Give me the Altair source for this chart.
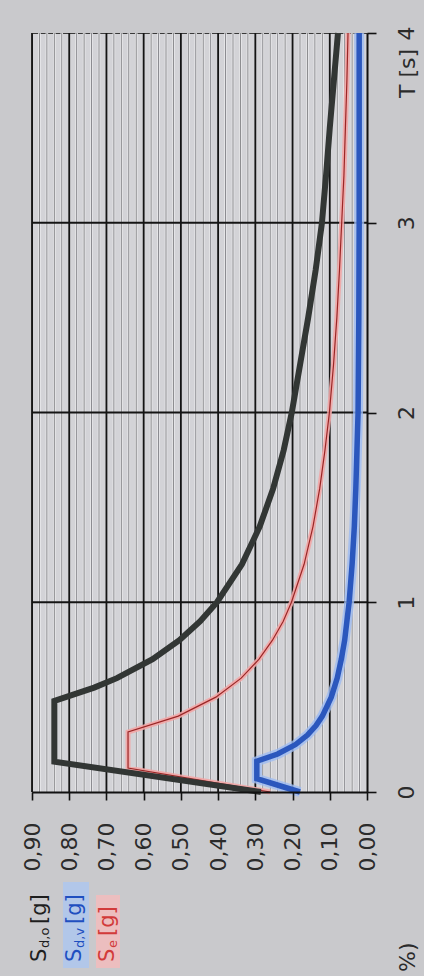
import altair as alt
import pandas as pd

# ---- spectra: period T [s] and spectral acceleration [g] ----
t_sdo = [0.00, 0.16, 0.48, 0.55, 0.60, 0.70, 0.80, 0.90, 1.00, 1.20, 1.40, 1.60,
         1.80, 2.00, 2.25, 2.50, 2.75, 3.00, 3.25, 3.50, 3.75, 4.00]
s_sdo = [0.285, 0.84, 0.84, 0.733, 0.672, 0.576, 0.504, 0.448, 0.403, 0.336, 0.288, 0.252,
         0.224, 0.202, 0.180, 0.158, 0.138, 0.121, 0.110, 0.100, 0.089, 0.078]

t_sdv = [0.00, 0.07, 0.162, 0.20, 0.25, 0.30, 0.35, 0.40, 0.50, 0.60, 0.70, 0.80,
         1.00, 1.20, 1.40, 1.60, 1.80, 2.00, 2.50, 3.00, 4.00]
s_sdv = [0.18, 0.296, 0.296, 0.240, 0.192, 0.160, 0.137, 0.120, 0.096, 0.080, 0.069, 0.060,
         0.048, 0.040, 0.034, 0.030, 0.027, 0.024, 0.022, 0.021, 0.021]

t_se = [0.00, 0.126, 0.316, 0.40, 0.50, 0.60, 0.70, 0.80, 0.90, 1.00, 1.20, 1.40, 1.60,
        1.80, 2.00, 2.25, 2.50, 2.75, 3.00, 3.25, 3.50, 3.75, 4.00]
s_se = [0.26, 0.642, 0.642, 0.507, 0.406, 0.338, 0.290, 0.254, 0.225, 0.203, 0.169, 0.145, 0.127,
        0.113, 0.101, 0.090, 0.081, 0.074, 0.068, 0.062, 0.058, 0.054, 0.051]

# axis values
s_major = [0.0, 0.1, 0.2, 0.3, 0.4, 0.5, 0.6, 0.7, 0.8, 0.9]
s_minor = [round(m + k * 0.02, 2) for m in s_major[:-1] for k in (1, 2, 3, 4)]
t_major = [0, 1, 2, 3, 4]

W, H = 335, 759
FONT = "DejaVu Sans"
INK = "#2b2b2b"

curves = pd.concat([
    pd.DataFrame({"T": t_sdo, "S": s_sdo, "series": "Sdo"}),
    pd.DataFrame({"T": t_sdv, "S": s_sdv, "series": "Sdv"}),
    pd.DataFrame({"T": t_se, "S": s_se, "series": "Se"}),
])

xs = alt.Scale(domain=[0, 0.9], reverse=True, nice=False, zero=False)
ys = alt.Scale(domain=[0, 4], nice=False, zero=False)

x_axis = alt.Axis(
    values=s_major, labelExpr="replace(format(datum.value, '.2f'), '.', ',')",
    labelAngle=270, labelAlign="right", labelBaseline="middle",
    labelFont=FONT, labelFontSize=22, labelColor=INK, labelPadding=22,
    labelOverlap=False, labelBound=False, labelFlush=False,
    tickSize=8, tickColor="#111", tickWidth=1.6,
    domainColor="#111", domainWidth=2, grid=False, title=None, zindex=2,
)
y_axis = alt.Axis(
    orient="right", values=t_major, format="d",
    labelAngle=270, labelAlign="center", labelBaseline="top",
    labelFont=FONT, labelFontSize=22, labelColor=INK, labelPadding=20,
    labelOverlap=False, labelBound=False, labelFlush=False,
    tickSize=9, tickColor="#111", tickWidth=1.6,
    domainColor="#111", domainWidth=2, grid=False, title=None, zindex=2,
)

X = lambda f: alt.X(f, type="quantitative", scale=xs, axis=x_axis)
Y = lambda f: alt.Y(f, type="quantitative", scale=ys, axis=y_axis)

# grid: fine lines every 0.02 g, heavy lines every 0.1 g and every second
minor_light = alt.Chart(pd.DataFrame({"v": s_minor})).mark_rule(
    color="#ececee", strokeWidth=2.5
).encode(x=X("v"), y=alt.value(0), y2=alt.value(H))
minor = alt.Chart(pd.DataFrame({"v": s_minor})).mark_rule(
    color="#88888c", strokeWidth=1
).encode(x=X("v"), y=alt.value(0), y2=alt.value(H))
major = alt.Chart(pd.DataFrame({"v": s_major[1:]})).mark_rule(
    color="#141414", strokeWidth=1.8
).encode(x=X("v"), y=alt.value(0), y2=alt.value(H))
tgrid = alt.Chart(pd.DataFrame({"t": t_major[1:-1]})).mark_rule(
    color="#141414", strokeWidth=1.8
).encode(y=Y("t"), x=alt.value(0), x2=alt.value(W))


def curve(name, color, width, opacity=1.0):
    return alt.Chart(curves).transform_filter(
        alt.datum.series == name
    ).mark_line(color=color, strokeWidth=width, opacity=opacity,
                strokeJoin="miter", strokeCap="butt").encode(
        x=X("S"), y=Y("T"), order="T:Q"
    )


lines = [
    curve("Sdv", "#9dbcf2", 10, 0.8),
    curve("Sdv", "#2b57bd", 5.5),
    curve("Se", "#f2a6a6", 5, 0.9),
    curve("Se", "#9b2626", 1.2),
    curve("Sdo", "#323634", 6),
]

one = pd.DataFrame({"k": [0]})


def txt(s, x, y, size=21, color=INK, align="left", baseline="middle"):
    return alt.Chart(one).mark_text(
        text=s, angle=270, align=align, baseline=baseline,
        font=FONT, fontSize=size, color=color,
    ).encode(x=alt.value(x - 32), y=alt.value(y - 33))


def box(x1, x2, y1, y2, color, opacity):
    return alt.Chart(one).mark_rect(color=color, opacity=opacity).encode(
        x=alt.value(x1 - 32), x2=alt.value(x2 - 32),
        y=alt.value(y1 - 33), y2=alt.value(y2 - 33),
    )


legend = [
    box(63, 89, 882, 968, "#a9c6f3", 0.75),
    box(96, 120, 895, 968, "#f5bcbc", 0.8),
    # S d,o [g]
    txt("S", 40, 962, color="#1e1e1e"),
    txt("d,o", 45, 948, size=13, color="#1e1e1e"),
    txt("[g]", 40, 924, color="#1e1e1e"),
    # S d,v [g]
    txt("S", 75, 962, color="#1f4fc0"),
    txt("d,v", 80, 948, size=13, color="#1f4fc0"),
    txt("[g]", 75, 924, color="#1f4fc0"),
    # S e [g]
    txt("S", 108, 962, color="#d23a3a"),
    txt("e", 113, 948, size=13, color="#d23a3a"),
    txt("[g]", 108, 936, color="#d23a3a"),
    # period axis title and clipped caption
    txt("T [s]", 408, 98, size=22),
    txt("%)", 408, 972, size=22),
]

chart = alt.layer(minor_light, minor, major, tgrid, *lines, *legend).properties(
    width=W, height=H,
    autosize=alt.AutoSizeParams(type="none"),
    padding={"left": 32, "top": 33, "right": 424 - 32 - W, "bottom": 976 - 33 - H},
    background="#c9c9cc",
).configure_view(
    fill="#d3d3d7", stroke="#3a3a3a", strokeWidth=1
)

chart.save("out.html", embed_options={"renderer": "svg", "actions": False})
